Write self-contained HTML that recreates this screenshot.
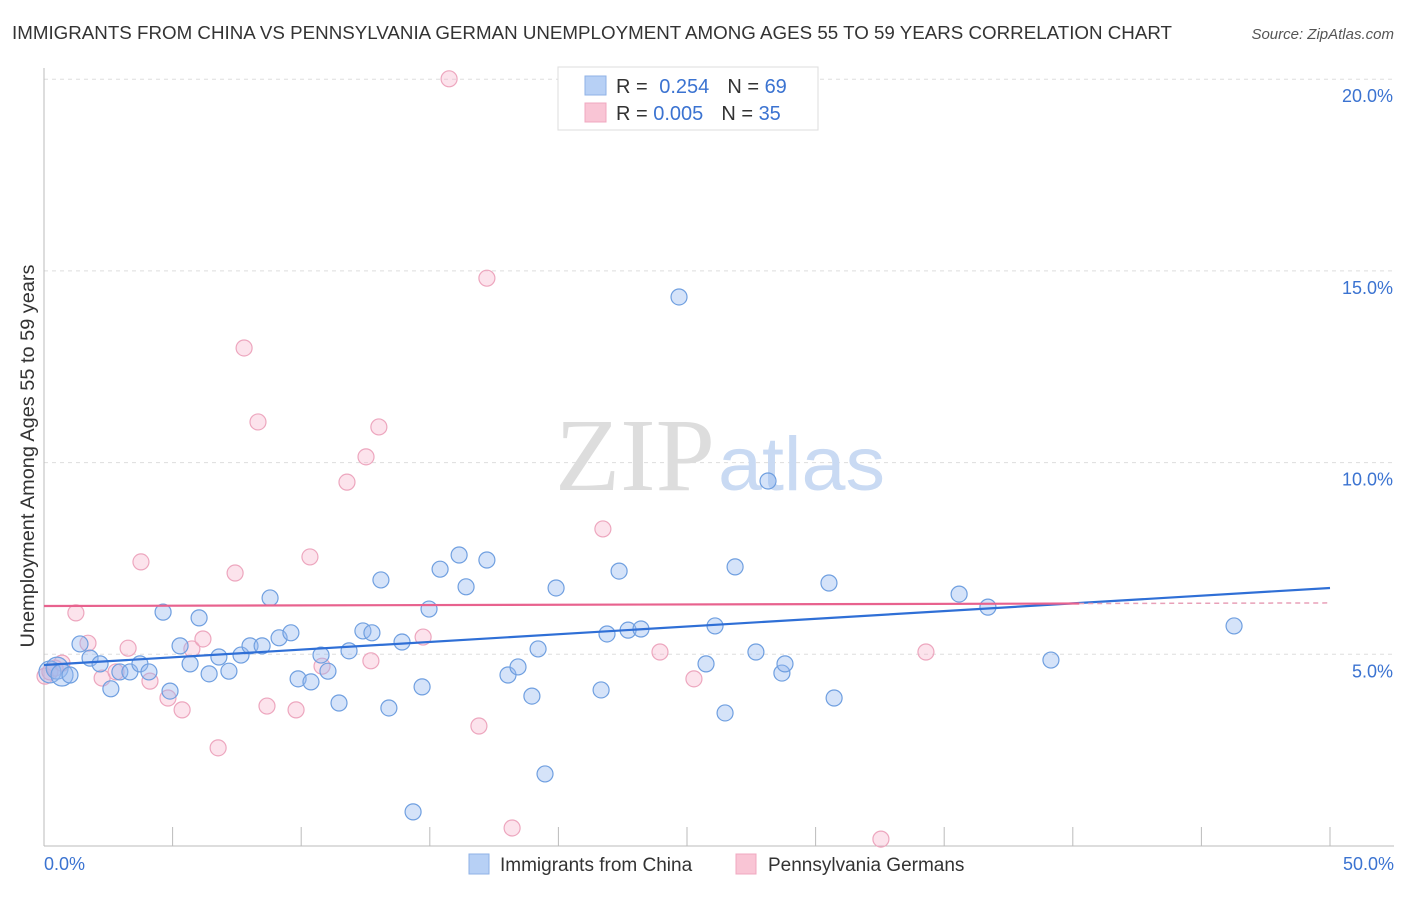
<!DOCTYPE html>
<html><head><meta charset="utf-8">
<style>
body{margin:0;background:#fff;font-family:"Liberation Sans",sans-serif;}
svg text{font-family:"Liberation Sans",sans-serif;}
</style></head>
<body>
<svg id="chart" width="1406" height="892" viewBox="0 0 1406 892" xmlns="http://www.w3.org/2000/svg">
<text x="12" y="39" font-size="18" fill="#333" textLength="1160" lengthAdjust="spacingAndGlyphs">IMMIGRANTS FROM CHINA VS PENNSYLVANIA GERMAN UNEMPLOYMENT AMONG AGES 55 TO 59 YEARS CORRELATION CHART</text>
<text x="1394" y="39" font-size="15" fill="#555" font-style="italic" text-anchor="end">Source: ZipAtlas.com</text>
<g id="grid"></g>
<g>
<text x="555" y="490" font-size="104" fill="#ddd" textLength="160" lengthAdjust="spacingAndGlyphs" style="font-family:'Liberation Serif',serif">ZIP</text>
<text x="718" y="490" font-size="76" fill="#c9daf3" textLength="167" lengthAdjust="spacingAndGlyphs">atlas</text>
</g>
<g id="axes"></g>
<g id="pts"></g>
<g id="lines"></g>
<text transform="translate(34,456) rotate(-90)" font-size="19" fill="#333" text-anchor="middle" textLength="383" lengthAdjust="spacingAndGlyphs">Unemployment Among Ages 55 to 59 years</text>
<g>
<rect x="558" y="67" width="260" height="63" fill="#fff" stroke="#ddd"/>
<rect x="585" y="76" width="21" height="19" fill="#b7d0f5" stroke="#8fb2e6"/>
<rect x="585" y="103" width="21" height="19" fill="#f9c5d5" stroke="#f0a8c0"/>
<text x="616" y="93" font-size="20" fill="#333">R = <tspan fill="#3b73d1" dx="6">0.254</tspan><tspan dx="18" fill="#333">N = </tspan><tspan fill="#3b73d1">69</tspan></text>
<text x="616" y="120" font-size="20" fill="#333">R = <tspan fill="#3b73d1">0.005</tspan><tspan dx="18" fill="#333">N = </tspan><tspan fill="#3b73d1">35</tspan></text>
</g>
<g>
<rect x="469" y="854" width="20" height="20" fill="#b7d0f5" stroke="#8fb2e6"/>
<text x="500" y="871" font-size="19" fill="#333">Immigrants from China</text>
<rect x="736" y="854" width="20" height="20" fill="#f9c5d5" stroke="#f0a8c0"/>
<text x="768" y="871" font-size="19" fill="#333">Pennsylvania Germans</text>
</g>
</svg>
<script>
const chinaX=[0.23,0.51,0.70,1.01,1.40,1.79,2.18,2.60,2.95,3.34,3.73,4.08,4.63,4.90,5.29,5.68,6.03,6.42,6.80,7.19,7.66,8.01,8.48,8.79,9.14,9.60,9.88,10.38,10.77,11.04,11.47,11.86,12.40,12.75,13.10,13.41,13.92,14.70,14.97,15.40,16.14,16.41,17.22,18.04,18.43,18.97,19.21,19.48,19.91,21.66,21.89,22.36,22.71,23.21,24.69,25.74,26.09,26.48,26.87,27.68,28.15,28.69,28.81,30.52,30.72,35.58,36.70,39.15,46.27,14.35];
const chinaY=[4.54,4.64,4.46,4.46,5.27,4.90,4.75,4.10,4.54,4.54,4.75,4.54,6.10,4.04,5.22,4.75,5.95,4.49,4.93,4.56,4.98,5.22,5.22,6.47,5.43,5.56,4.36,4.28,4.98,4.56,3.73,5.09,5.61,5.56,6.94,3.60,5.32,4.15,6.18,7.22,7.59,6.76,7.46,4.46,4.67,3.91,5.14,1.88,6.73,4.07,5.53,7.17,5.63,5.66,14.32,4.75,5.74,3.47,7.28,5.06,9.52,4.51,4.75,6.86,3.86,6.57,6.23,4.85,5.74,0.89];
const paX=[0.04,0.23,0.43,0.70,1.24,1.71,2.26,2.80,3.27,3.77,4.12,4.82,5.37,5.75,6.18,6.77,7.43,7.78,8.32,8.67,9.80,10.34,10.81,11.78,12.52,12.71,13.02,14.74,15.75,16.91,17.22,18.20,21.73,23.95,25.27,32.54,34.29];
const paY=[4.43,4.54,4.64,4.77,6.08,5.29,4.38,4.54,5.16,7.41,4.30,3.86,3.55,5.14,5.40,2.56,7.12,12.99,11.06,3.65,3.55,7.54,4.69,9.49,10.15,4.83,10.93,5.45,20.01,3.13,14.81,0.47,8.27,5.06,4.36,0.18,5.06];
const chinaTrend=[4.72,6.73];
const paTrend=[6.26,6.34];
const yTicks=[5,10,15,20];
const xTicks=[0,5,10,15,20,25,30,35,40,45,50];
const NS='http://www.w3.org/2000/svg';
const sx=v=>44+v*25.72, sy=v=>846-v*38.34;
function mk(t,a,p){const e=document.createElementNS(NS,t);for(const k in a)e.setAttribute(k,a[k]);p.appendChild(e);return e;}
const grid=document.getElementById('grid'),axes=document.getElementById('axes'),pts=document.getElementById('pts'),lines=document.getElementById('lines');
yTicks.forEach(v=>{
 const l=mk('line',{x1:44,x2:1394,y1:sy(v),y2:sy(v),stroke:'#ddd','stroke-dasharray':'4,4'},grid);
 
 
 const t=mk('text',{x:1393,y:sy(v)+23,'font-size':18,fill:'#3b73d1','text-anchor':'end'},axes);
 t.textContent=v.toFixed(1)+'%';
 
 
});
mk('line',{x1:44,x2:44,y1:68,y2:846,stroke:'#bbb'},axes);
mk('line',{x1:44,x2:1394,y1:846,y2:846,stroke:'#bbb'},axes);
xTicks.forEach(v=>{
 const l=mk('line',{x1:sx(v),x2:sx(v),y1:827,y2:846,stroke:'#bbb'},axes);
 
 
});
[[0,'start',44],[50,'end',1394]].forEach(([v,a,x])=>{
 const t=mk('text',{x:x,y:870,'font-size':18,fill:'#3b73d1','text-anchor':a},axes);
 t.textContent=v.toFixed(1)+'%';
 
 
});
paX.forEach((x,i)=>{
 const c=mk('circle',{cx:sx(x),cy:sy(paY[i]),r:8,fill:'rgba(246,175,200,0.35)',stroke:'#eda6be','stroke-width':1.2},pts);
 
 
});
chinaX.forEach((x,i)=>{
 const c=mk('circle',{cx:sx(x),cy:sy(chinaY[i]),r:i<3?11:8,fill:'rgba(150,185,240,0.4)',stroke:'#6f9fe0','stroke-width':1.2},pts);
 
 
});
const b=mk('line',{x1:sx(0),y1:sy(chinaTrend[0]),x2:sx(50),y2:sy(chinaTrend[1]),stroke:'#2f6fd6','stroke-width':2.2},lines);


const pm=paTrend[0]+(paTrend[1]-paTrend[0])*0.805;
const p1=mk('line',{x1:sx(0),y1:sy(paTrend[0]),x2:sx(40.25),y2:sy(pm),stroke:'#e8628e','stroke-width':2.2},lines);


const p2=mk('line',{x1:sx(40.25),y1:sy(pm),x2:sx(50),y2:sy(paTrend[1]),stroke:'#e8a0b8','stroke-width':1.5,'stroke-dasharray':'5,4'},lines);


</script>
</body></html>
